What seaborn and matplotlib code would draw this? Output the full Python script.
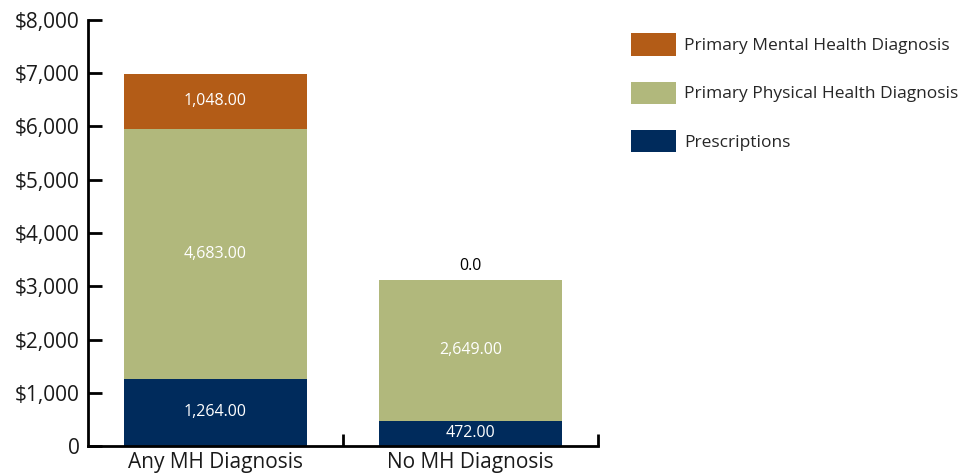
import numpy as np
import pandas as pd
import matplotlib
matplotlib.use('Agg')
import matplotlib.pyplot as plt
import seaborn as sns
from matplotlib.patches import Patch
from matplotlib.ticker import FuncFormatter, FixedLocator

groups = ['Any MH Diagnosis', 'No MH Diagnosis']
prescriptions = [1264.0, 472.0]
physical = [4683.0, 2649.0]
mental = [1048.0, 0.0]

series_names = ['Primary Mental Health Diagnosis', 'Primary Physical Health Diagnosis', 'Prescriptions']
colors = ['#B35C17', '#B1B87C', '#002B5C']

sns.set_style('white')
plt.rcParams['font.family'] = ['Open Sans', 'DejaVu Sans']

df = pd.DataFrame({'group': groups, 'rx': prescriptions, 'phys': physical, 'mh': mental})
df['lvl1'] = df['rx']
df['lvl2'] = df['rx'] + df['phys']
df['lvl3'] = df['lvl2'] + df['mh']

fig = plt.figure(figsize=(9.75, 4.76), dpi=100)
ax = fig.add_axes([0.0903, 0.063, 0.613 - 0.0903, 0.958 - 0.063])

# stacked bars by overlaying cumulative totals
for col, c in zip(['lvl3', 'lvl2', 'lvl1'], colors):
    sns.barplot(data=df, x='group', y=col, color=c, width=0.72, saturation=1,
                linewidth=0, edgecolor='none', ax=ax)

def fmt(v):
    return f'{v:,.2f}' if v > 0 else f'{v:.1f}'

for i, row in df.iterrows():
    ax.text(i, row['rx'] / 2, fmt(row['rx']), ha='center', va='center', color='white', fontsize=11.5)
    ax.text(i, row['rx'] + row['phys'] / 2, fmt(row['phys']), ha='center', va='center', color='white', fontsize=11.5)
    if row['mh'] > 0:
        ax.text(i, row['lvl2'] + row['mh'] / 2, fmt(row['mh']), ha='center', va='center', color='white', fontsize=11.5)
    else:
        ax.annotate(fmt(row['mh']), (i, row['lvl3']), xytext=(0, 4), textcoords='offset points',
                    ha='center', va='bottom', color='black', fontsize=11.5)

ax.set_xlim(-0.5, 1.5)
ax.set_ylim(0, 8000)
ax.set_yticks(np.arange(0, 8001, 1000))
ax.yaxis.set_major_formatter(FuncFormatter(lambda v, p: '0' if v == 0 else f'${v:,.0f}'))
ax.set_xlabel('')
ax.set_ylabel('')

ax.xaxis.set_minor_locator(FixedLocator([0.5, 1.5]))
ax.tick_params(axis='x', which='major', bottom=True, length=0, labelsize=15, pad=4, labelcolor='#1a1a1a')
ax.tick_params(axis='x', which='minor', bottom=True, direction='in', length=9, width=2, color='black')
ax.tick_params(axis='y', left=True, direction='in', length=10, width=2, labelsize=15, pad=6,
               color='black', labelcolor='#1a1a1a')

for s in ['top', 'right']:
    ax.spines[s].set_visible(False)
for s in ['left', 'bottom']:
    ax.spines[s].set_linewidth(2)
    ax.spines[s].set_color('black')

handles = [Patch(facecolor=c, edgecolor='none') for c in colors]
fig.legend(handles, series_names, loc='upper left', bbox_to_anchor=(0.631, 0.963), frameon=False,
           fontsize=12.5, handlelength=2.6, handleheight=1.6, labelspacing=1.5, handletextpad=0.45)

fig.savefig('out.png', dpi=100)
